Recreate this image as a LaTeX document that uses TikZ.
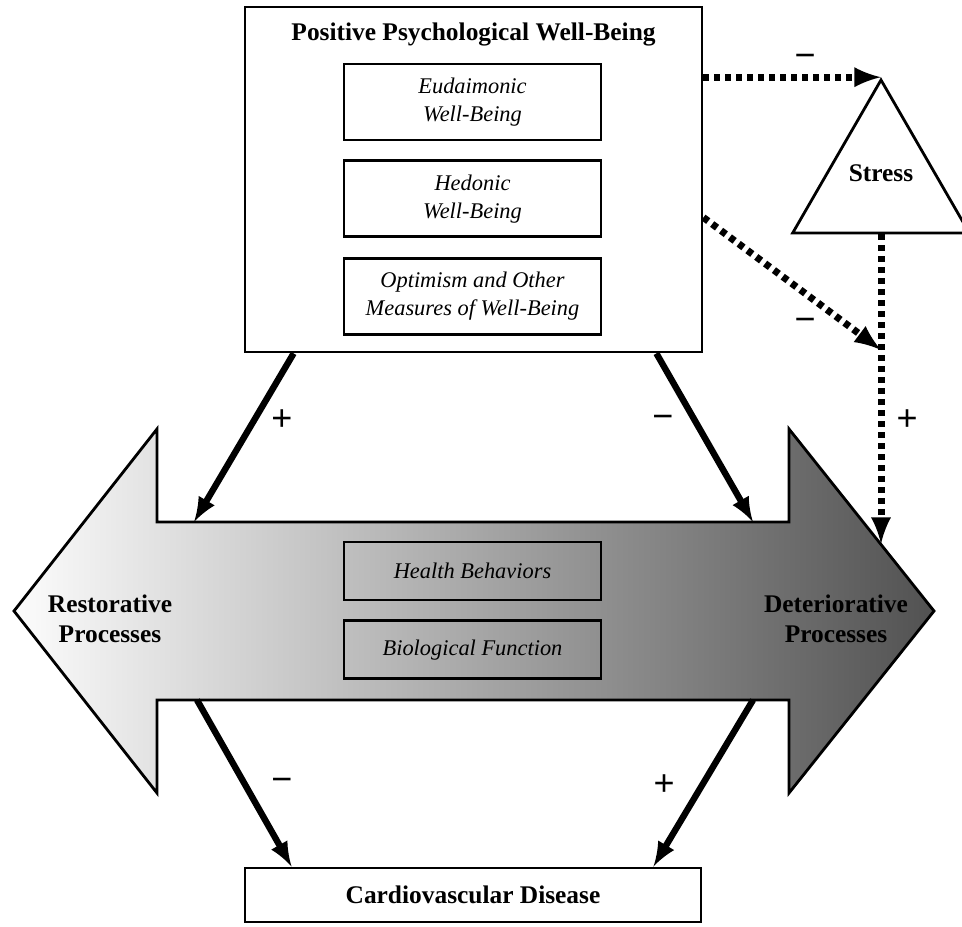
\documentclass[tikz,border=0pt]{standalone}
\usepackage{fontspec}
\setmainfont{Liberation Serif}
\setsansfont{Liberation Sans}
\usetikzlibrary{shapes.geometric, positioning, arrows}

\tikzset{
  box/.style={draw, line width=1.4pt, fill=white, inner sep=0pt},
  inbox/.style={draw, line width=1.4pt, text badly centered, text width=118.5pt,
    inner sep=5pt, minimum height=38pt, font=\itshape\fontsize{11.2}{14}\selectfont},
  bold/.style={font=\bfseries\fontsize{12.7}{15}\selectfont},
  sign/.style={font=\sffamily\fontsize{18}{18}\selectfont},
  effect/.style={-latex, line width=3.2pt},
  stresspath/.style={-latex, line width=3.5pt, dash pattern=on 3pt off 2.5pt},
}

\begin{document}
\begin{tikzpicture}[x=0.5pt, y=-0.5pt]
      \useasboundingbox (0,0) rectangle (962,926);%

      % processes arrow
      \coordinate (Ltip) at (14,611);%
      \coordinate (Rtip) at (934,611);%
      \path [draw, line width=1.4pt, left color=gray!2, right color=black!68]
      (Ltip) -- (157,429) -- (157,522) -- (789,522) -- (789,429) -- (Rtip)
      -- (789,793) -- (789,700) -- (157,700) -- (157,793) -- cycle;%
      \coordinate (RPin) at (194,522);%
      \coordinate (DPin) at (753,522);%
      \coordinate (RPout) at (197,700);%
      \coordinate (DPout) at (753,700);%
      \coordinate (DPedge) at (881,544);%

      \node [bold, text badly centered, text width=80pt] (RP) at (110,619)
      {Restorative Processes};%
      \node [bold, text badly centered, text width=80pt] (DP) at (836,619)
      {Deteriorative Processes};%
      \node [inbox, minimum height=29pt] (HB) at (472.5,571) {Health Behaviors};%
      \node [inbox, minimum height=29pt, below=9pt of HB] (BF)
      {Biological Function};%

      % well-being
      \node [box, minimum width=228.5pt, minimum height=172.5pt] (PWB)
      at (473.5,179.5) {};%
      \node [bold, below=5pt of PWB.north] (PWBt)
      {Positive Psychological Well-Being};%
      \node [inbox] (Eud) at (472.5,102) {Eudaimonic\\ Well-Being};%
      \node [inbox, below=9pt of Eud] (Hed) {Hedonic\\ Well-Being};%
      \node [inbox, below=9.5pt of Hed] (Opt)
      {Optimism and Other\\ Measures of Well-Being};%

      % stress
      \node [draw, line width=1.4pt, regular polygon, regular polygon sides=3,
      minimum size=102pt, inner sep=0pt] (Stress) at (881,182) {};%
      \node [bold] (StressT) at (881,173) {Stress};%
      \coordinate (J) at (881,350);%

      % disease
      \node [box, minimum width=228pt, minimum height=27pt, bold] (CVD)
      at (473,895) {Cardiovascular Disease};%

      % arrows
      \draw [effect] ([xshift=25pt]PWB.south west) -- (RPin);%
      \draw [effect] ([xshift=-23.5pt]PWB.south east) -- (DPin);%
      \draw [effect] (RPout) -- ([xshift=24pt]CVD.north west);%
      \draw [effect] (DPout) -- ([xshift=-24.5pt]CVD.north east);%

      \draw [stresspath] (PWB.east |- Stress.north) -- (Stress.north);%
      \draw [stresspath] ([yshift=-19pt]PWB.east) -- (J);%
      \draw [stresspath] (Stress.south) -- (DPedge);%

      % signs
      \node [sign] (s1) at (805,61) {−};%
      \node [sign] (s2) at (805,325) {−};%
      \node [sign] (s3) at (907,420) {+};%
      \node [sign] (s4) at (282,420) {+};%
      \node [sign] (s5) at (663,422) {−};%
      \node [sign] (s6) at (282,785) {−};%
      \node [sign] (s7) at (664,785) {+};%
    \end{tikzpicture}
\end{document}
